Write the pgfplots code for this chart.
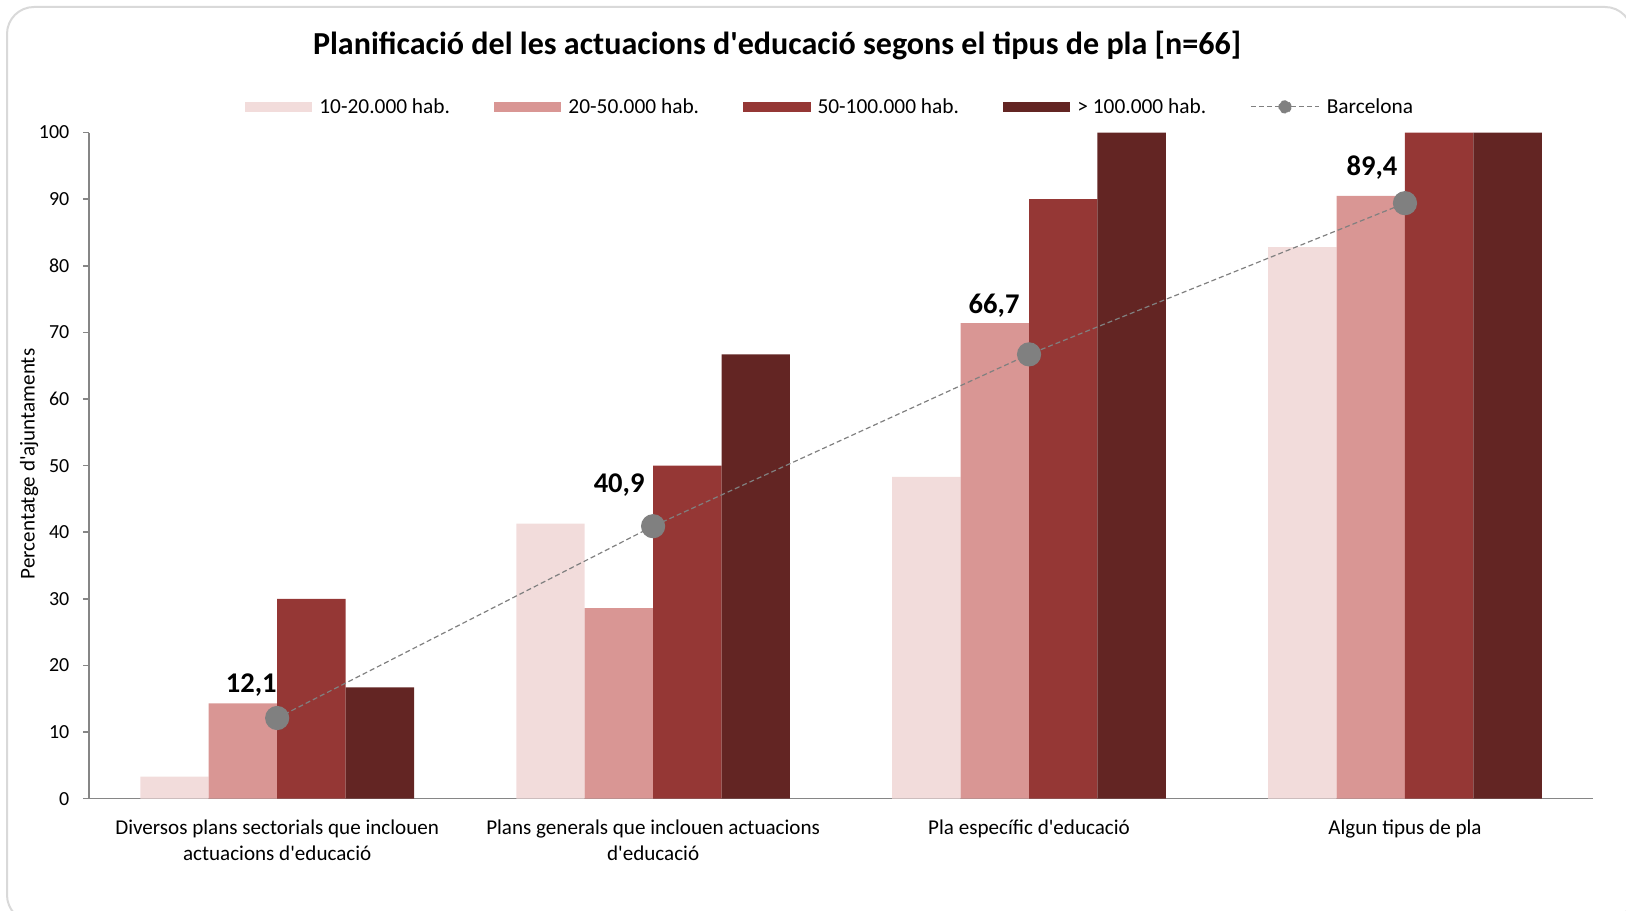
\documentclass[border=0pt]{standalone}
\usepackage{fontspec}
\setmainfont{Carlito}[Ligatures=TeXOff]
\usepackage{pgfplots}
\usepackage{pgfplotstable}
\pgfplotsset{compat=1.18}

\definecolor{c1}{HTML}{F2DCDB}
\definecolor{c2}{HTML}{D99694}
\definecolor{c3}{HTML}{953735}
\definecolor{c4}{HTML}{632523}
\definecolor{bcn}{HTML}{808080}
\definecolor{axisgray}{HTML}{868686}
\definecolor{framegray}{HTML}{D9D9D9}

\pgfplotstableread{
x y
0 3.3
1 41.3
2 48.3
3 82.8
}\tA
\pgfplotstableread{
x y
0 14.3
1 28.6
2 71.4
3 90.5
}\tB
\pgfplotstableread{
x y
0 30.0
1 50.0
2 90.0
3 100
}\tC
\pgfplotstableread{
x y
0 16.7
1 66.7
2 100
3 100
}\tD
\pgfplotstableread{
x y lab dx dy
0 12.1 12,1 0 26
1 40.9 40,9 -8 34
2 66.7 66,7 -9 41
3 89.4 89,4 -7 28
}\tBCN

\begin{document}
\begin{tikzpicture}
\path[use as bounding box] (0,0) rectangle (406.5mm,227.5mm);
\draw[framegray, line width=0.5mm, rounded corners=6.75mm] (1.75mm,225.75mm) rectangle (408mm,-3mm);
\node[font=\fontsize{22.8}{27}\selectfont\bfseries] at (194.25mm,216.1mm) {Planificació del les actuacions d'educació segons el tipus de pla [n=66]};
\begin{axis}[
  at={(22.3mm,27.85mm)}, anchor=south west,
  scale only axis, width=375.95mm, height=166.5mm,
  xmin=-0.5, xmax=3.5, ymin=0, ymax=100,
  enlargelimits=false,
  axis x line=bottom, axis y line=left,
  axis line style={-, axisgray, line width=0.45mm},
  ytick={0,10,...,100},
  tick align=outside,
  major tick length=1.5mm,
  ytick style={axisgray, line width=0.4mm},
  xtick={0,1,2,3},
  xtick style={draw=none},
  xticklabels={Diversos plans sectorials que inclouen\\actuacions d'educació, Plans generals que inclouen actuacions\\d'educació, Pla específic d'educació, Algun tipus de pla},
  xticklabel style={align=center, anchor=north, inner sep=0pt, yshift=-3.7mm, font=\fontsize{15}{18.5}\selectfont},
  yticklabel style={anchor=east, inner sep=0pt, xshift=-3.4mm, font=\fontsize{14.2}{17}\selectfont},
  /pgf/number format/assume math mode=true,
  ylabel={Percentatge d'ajuntaments},
  ylabel style={at={(axis description cs:-0.040,0.5025)}, anchor=center, rotate=0, font=\fontsize{15}{18}\selectfont},
  legend columns=5,
  legend style={at={(0.492,1.0386)}, anchor=center, draw=none, fill=none,
    font=\fontsize{15.2}{18}\selectfont,
    cells={anchor=west}, nodes={inner sep=0pt},
    /tikz/every odd column/.append style={column sep=1.75mm},
    /tikz/every even column/.append style={column sep=11mm}},
]
\addplot[ybar, bar width=0.182, bar shift=-0.273, fill=c1, draw=none,
  legend image code/.code={\fill[c1] (0,-1.3mm) rectangle (16.85mm,1.3mm);}] table[x=x,y=y]{\tA};
\addlegendentry{10-20.000 hab.}
\addplot[ybar, bar width=0.182, bar shift=-0.091, fill=c2, draw=none,
  legend image code/.code={\fill[c2] (0,-1.3mm) rectangle (16.85mm,1.3mm);}] table[x=x,y=y]{\tB};
\addlegendentry{20-50.000 hab.}
\addplot[ybar, bar width=0.182, bar shift=0.091, fill=c3, draw=none,
  legend image code/.code={\fill[c3] (0,-1.3mm) rectangle (16.85mm,1.3mm);}] table[x=x,y=y]{\tC};
\addlegendentry{50-100.000 hab.}
\addplot[ybar, bar width=0.182, bar shift=0.273, fill=c4, draw=none,
  legend image code/.code={\fill[c4] (0,-1.3mm) rectangle (16.85mm,1.3mm);}] table[x=x,y=y]{\tD};
\addlegendentry{> 100.000 hab.}
\addplot[bcn, line width=0.3mm, dash pattern=on 1.25mm off 0.75mm,
  mark=*, mark size=2.875mm, mark options={solid, fill=bcn, draw=none},
  point meta=explicit symbolic,
  visualization depends on={\thisrow{dx} \as \ddx},
  visualization depends on={\thisrow{dy} \as \ddy},
  nodes near coords,
  every node near coord/.append style={anchor=base east, inner sep=0pt, text=black,
     font=\fontsize{20.3}{24}\selectfont\bfseries,
     xshift={\ddx*0.25mm}, yshift={\ddy*0.25mm}},
  legend image code/.code={\draw[bcn, line width=0.3mm, dash pattern=on 1.25mm off 0.75mm] (0,0) -- (17.1mm,0); \fill[bcn] (8.55mm,0) circle (1.5mm);}
  ] table[x=x,y=y,meta=lab]{\tBCN};
\addlegendentry{Barcelona}
\end{axis}
\end{tikzpicture}
\end{document}
